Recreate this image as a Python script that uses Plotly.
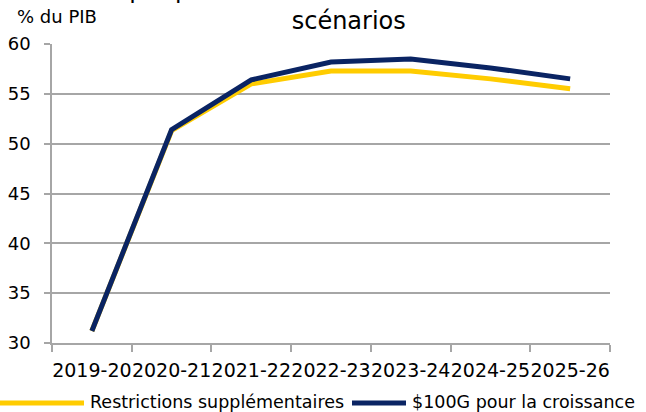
import plotly.graph_objects as go

# Fiscal years and debt-to-GDP projections (% du PIB) under two scenarios
years = ["2019-20", "2020-21", "2021-22", "2022-23", "2023-24", "2024-25", "2025-26"]
restrictions = [31.2, 51.3, 56.0, 57.3, 57.3, 56.5, 55.5]
croissance = [31.2, 51.4, 56.4, 58.2, 58.5, 57.6, 56.5]
series_names = ["Restrictions supplémentaires", "$100G pour la croissance"]
series_colors = ["#FFCC00", "#0A2463"]
y_ticks = [30, 35, 40, 45, 50, 55, 60]

W, H = 646, 412
L, R, T, B = 52, 36, 44, 69
FONT = "DejaVu Sans"
GRID = "#A6A6A6"


def px_x(x):
    return (x - L) / (W - L - R)


def px_y(y):
    return (H - B - y) / (H - T - B)


fig = go.Figure()
for name, vals, col in zip(series_names, [restrictions, croissance], series_colors):
    fig.add_trace(go.Scatter(
        x=years, y=vals, name=name, mode="lines",
        line=dict(color=col, width=5), showlegend=False,
    ))

# Legend drawn below the axis: a line sample then its label for each series
legend_items = [(-6, 84, 88), (352, 406, 410)]
for (x0, x1, tx), name, col in zip(legend_items, series_names, series_colors):
    fig.add_shape(type="line", xref="paper", yref="paper",
                  x0=px_x(x0), x1=px_x(x1), y0=px_y(403), y1=px_y(403),
                  line=dict(color=col, width=5))
    fig.add_annotation(text=name, xref="paper", yref="paper",
                       x=px_x(tx), y=px_y(402), xanchor="left", yanchor="middle",
                       showarrow=False, font=dict(family=FONT, size=17.5, color="black"))

fig.add_annotation(text="% du PIB", xref="paper", yref="paper",
                   x=px_x(15), y=px_y(16), xanchor="left", yanchor="middle",
                   showarrow=False, font=dict(family=FONT, size=18, color="black"))

# Two-line chart title; its first line sits above the top edge of the page
fig.add_annotation(text="Graphique 3 : Dette fédérale selon les deux<br>scénarios",
                   xref="paper", yref="paper",
                   x=px_x(348.5), y=px_y(36), xanchor="center", yanchor="bottom",
                   showarrow=False, borderpad=0,
                   font=dict(family=FONT, size=24, color="black"))

fig.update_layout(
    width=W, height=H, autosize=False,
    margin=dict(l=L, r=R, t=T, b=B, pad=0),
    paper_bgcolor="white", plot_bgcolor="white",
    font=dict(family=FONT, size=18, color="black"),
    xaxis=dict(
        type="category", tickson="boundaries", showgrid=False,
        range=[-0.5, len(years) - 0.5], automargin=False, tickangle=0,
        showline=True, linecolor=GRID, linewidth=1.5,
        ticks="outside", ticklen=7, tickcolor=GRID, tickwidth=1.5,
        ticklabelstandoff=9,
        tickfont=dict(family=FONT, size=19, color="black"),
    ),
    yaxis=dict(
        range=[30, 60], tickvals=y_ticks, showgrid=True, gridcolor=GRID, gridwidth=1.5,
        showline=True, linecolor=GRID, linewidth=1.5, zeroline=False,
        automargin=False,
        ticks="outside", ticklen=6, tickcolor=GRID, tickwidth=1.5,
        ticklabelstandoff=10,
        tickfont=dict(family=FONT, size=18, color="black"),
    ),
)

fig.write_html("out.html")
